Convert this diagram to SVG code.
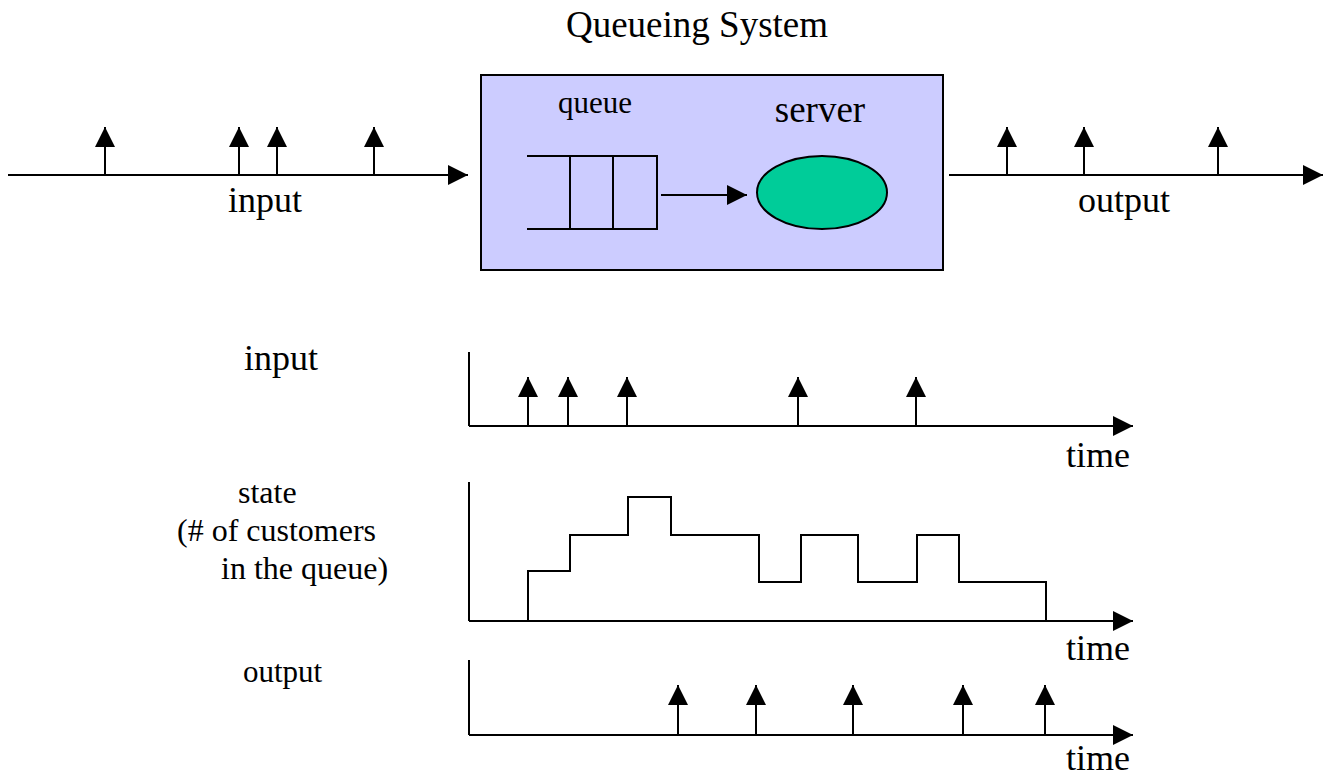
<svg xmlns="http://www.w3.org/2000/svg" width="1328" height="781" viewBox="0 0 1328 781" font-family="'Liberation Serif', 'Times New Roman', 'DejaVu Serif', serif">
  <defs>
    <marker id="ah" viewBox="0 0 20 20" refX="20" refY="10" markerWidth="20" markerHeight="20" markerUnits="userSpaceOnUse" orient="auto">
      <path d="M0,0 L20,10 L0,20 Z" fill="#000"/>
    </marker>
    <style>
      .ln { stroke: #000; stroke-width: 2; fill: none; }
      .arr { stroke: #000; stroke-width: 2; fill: none; marker-end: url(#ah); }
      text { font-family: "Liberation Serif", "Times New Roman", "DejaVu Serif", serif; fill: #000; }
    </style>
  </defs>
  <rect width="1328" height="781" fill="#fff"/>

  <!-- title -->
  <g id="title">
    <text x="697" y="37" font-size="37" text-anchor="middle">Queueing System</text>
  </g>

  <!-- the queueing system: queue and server -->
  <g id="system">
    <rect x="481" y="75" width="462" height="195" fill="#CCCCFF" stroke="#000" stroke-width="2"/>
    <text x="595" y="113" font-size="31" text-anchor="middle">queue</text>
    <text x="820" y="122" font-size="37" text-anchor="middle">server</text>
  </g>
  <g id="queue">
    <path class="ln" d="M527,156 H657 V229 H527 M570,156 V229 M613,156 V229"/>
  </g>
  <g id="server">
    <ellipse cx="822" cy="192.5" rx="65" ry="36.5" fill="#00CC99" stroke="#000" stroke-width="2"/>
  </g>

  <!-- arrival and departure streams -->
  <g id="input-stream">
    <text x="265" y="212" font-size="36" text-anchor="middle">input</text>
  </g>
  <g id="output-stream">
    <text x="1124" y="212" font-size="36" text-anchor="middle">output</text>
  </g>

  <!-- time charts -->
  <g id="chart-input">
    <text x="244" y="370" font-size="36">input</text>
    <path class="ln" d="M469,352 V426"/>
    <text x="1066" y="467" font-size="36">time</text>
  </g>
  <g id="chart-state">
    <text x="238" y="503" font-size="32">state</text>
    <text x="177" y="541" font-size="32">(# of customers</text>
    <text x="221" y="579" font-size="32">in the queue)</text>
    <path class="ln" d="M469,482 V621"/>
    <path class="ln" d="M528,621 V571 H570 V535 H628 V497 H671 V535 H759 V582 H801 V535 H858 V582 H917 V535 H959 V582 H1046 V621"/>
    <text x="1066" y="660" font-size="36">time</text>
  </g>
  <g id="chart-output">
    <text x="243" y="682" font-size="31">output</text>
    <path class="ln" d="M469,660 V735"/>
    <text x="1066" y="770" font-size="36">time</text>
  </g>

  <g id="connectors">
    <!-- top streams -->
    <line class="arr" x1="8" y1="175" x2="468" y2="175"/>
    <line class="arr" x1="105" y1="175" x2="105" y2="127"/>
    <line class="arr" x1="239" y1="175" x2="239" y2="127"/>
    <line class="arr" x1="277" y1="175" x2="277" y2="127"/>
    <line class="arr" x1="374" y1="175" x2="374" y2="127"/>
    <line class="arr" x1="661" y1="195" x2="747" y2="195"/>
    <line class="arr" x1="949" y1="175" x2="1323" y2="175"/>
    <line class="arr" x1="1007" y1="175" x2="1007" y2="127"/>
    <line class="arr" x1="1084" y1="175" x2="1084" y2="127"/>
    <line class="arr" x1="1218" y1="175" x2="1218" y2="127"/>
    <!-- input chart -->
    <line class="arr" x1="469" y1="426" x2="1133" y2="426"/>
    <line class="arr" x1="528" y1="426" x2="528" y2="377"/>
    <line class="arr" x1="568" y1="426" x2="568" y2="377"/>
    <line class="arr" x1="627" y1="426" x2="627" y2="377"/>
    <line class="arr" x1="798" y1="426" x2="798" y2="377"/>
    <line class="arr" x1="916" y1="426" x2="916" y2="377"/>
    <!-- state chart -->
    <line class="arr" x1="469" y1="621" x2="1133" y2="621"/>
    <!-- output chart -->
    <line class="arr" x1="469" y1="735" x2="1133" y2="735"/>
    <line class="arr" x1="678" y1="735" x2="678" y2="685"/>
    <line class="arr" x1="756" y1="735" x2="756" y2="685"/>
    <line class="arr" x1="853" y1="735" x2="853" y2="685"/>
    <line class="arr" x1="963" y1="735" x2="963" y2="685"/>
    <line class="arr" x1="1045" y1="735" x2="1045" y2="685"/>
  </g>
</svg>
